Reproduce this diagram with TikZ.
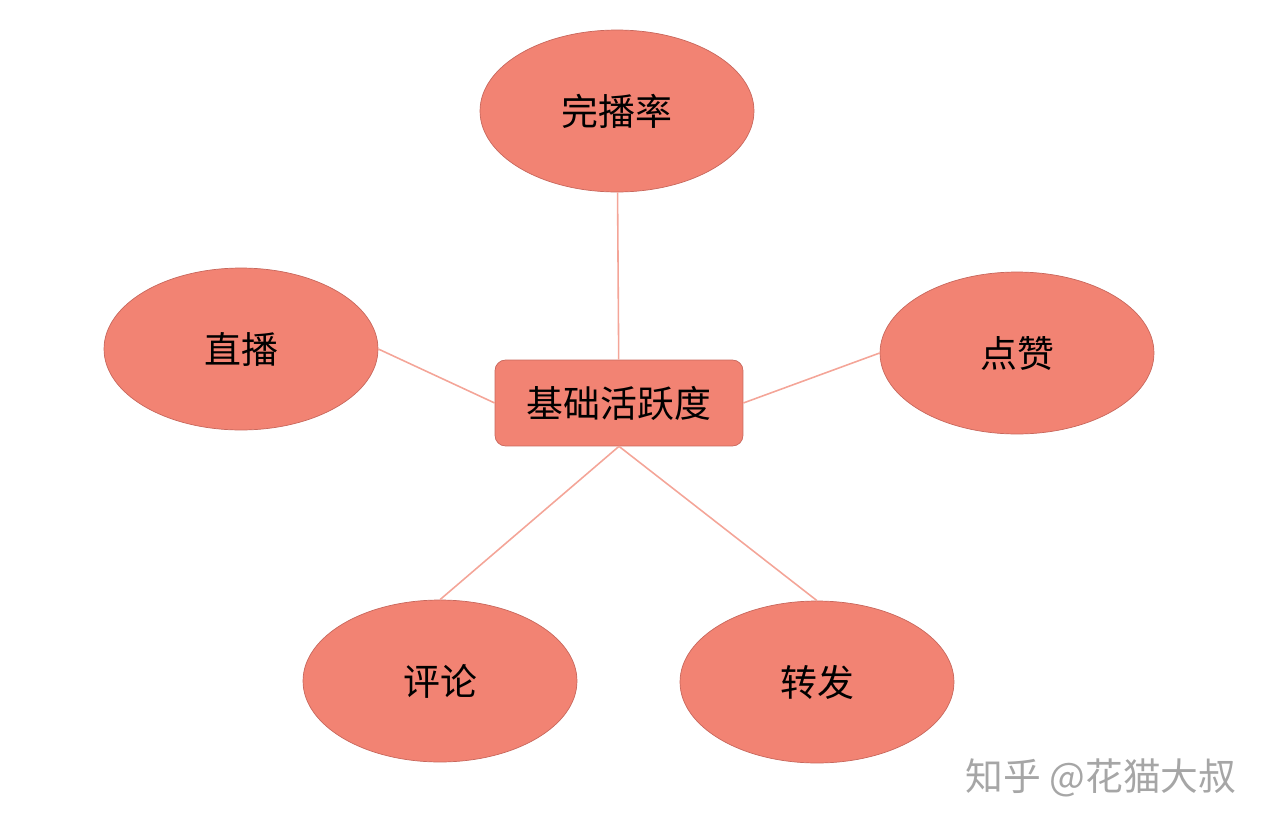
\documentclass[tikz,border=0pt]{standalone}
\usepackage{fontspec}
\newfontfamily\cjk{Noto Sans CJK SC}
\usetikzlibrary{shapes.geometric,positioning}
\definecolor{salmon}{HTML}{F28373}
\definecolor{rim}{HTML}{C8675C}
\definecolor{link}{HTML}{F4A598}

\begin{document}
\begin{tikzpicture}[x=0.02cm, y=-0.02cm,
  leaf/.style={ellipse, draw=rim, fill=salmon, minimum width=5.48cm, minimum height=3.24cm, font=\cjk\fontsize{21}{25}\selectfont},
  hub/.style={rectangle, rounded corners=6pt, draw=rim, fill=salmon, minimum width=4.96cm, minimum height=1.72cm, font=\cjk\fontsize{21}{25}\selectfont},
  link/.style={draw=link, line width=0.9pt}]
  \useasboundingbox (0,0) rectangle (1269,829);
  \node [hub] (hub) at (619,403) {基础活跃度};
  \node [leaf] (rate) at (617,111) {完播率};
  \node [leaf] (live) at (241,349) {直播};
  \node [leaf] (like) at (1017,353) {点赞};
  \node [leaf] (comment) at (440,681) {评论};
  \node [leaf] (share) at (817,682) {转发};
  \draw [link] (rate) -- (hub);
  \draw [link] (live.east) -- (hub.west);
  \draw [link] (hub.east) -- (like.west);
  \draw [link] (hub.south) -- (comment.north);
  \draw [link] (hub.south) -- (share.north);
  \node [text=gray!70, font=\cjk\fontsize{21.5}{25}\selectfont] (mark) at (1101,778) {知乎 @花猫大叔};
\end{tikzpicture}
\end{document}
